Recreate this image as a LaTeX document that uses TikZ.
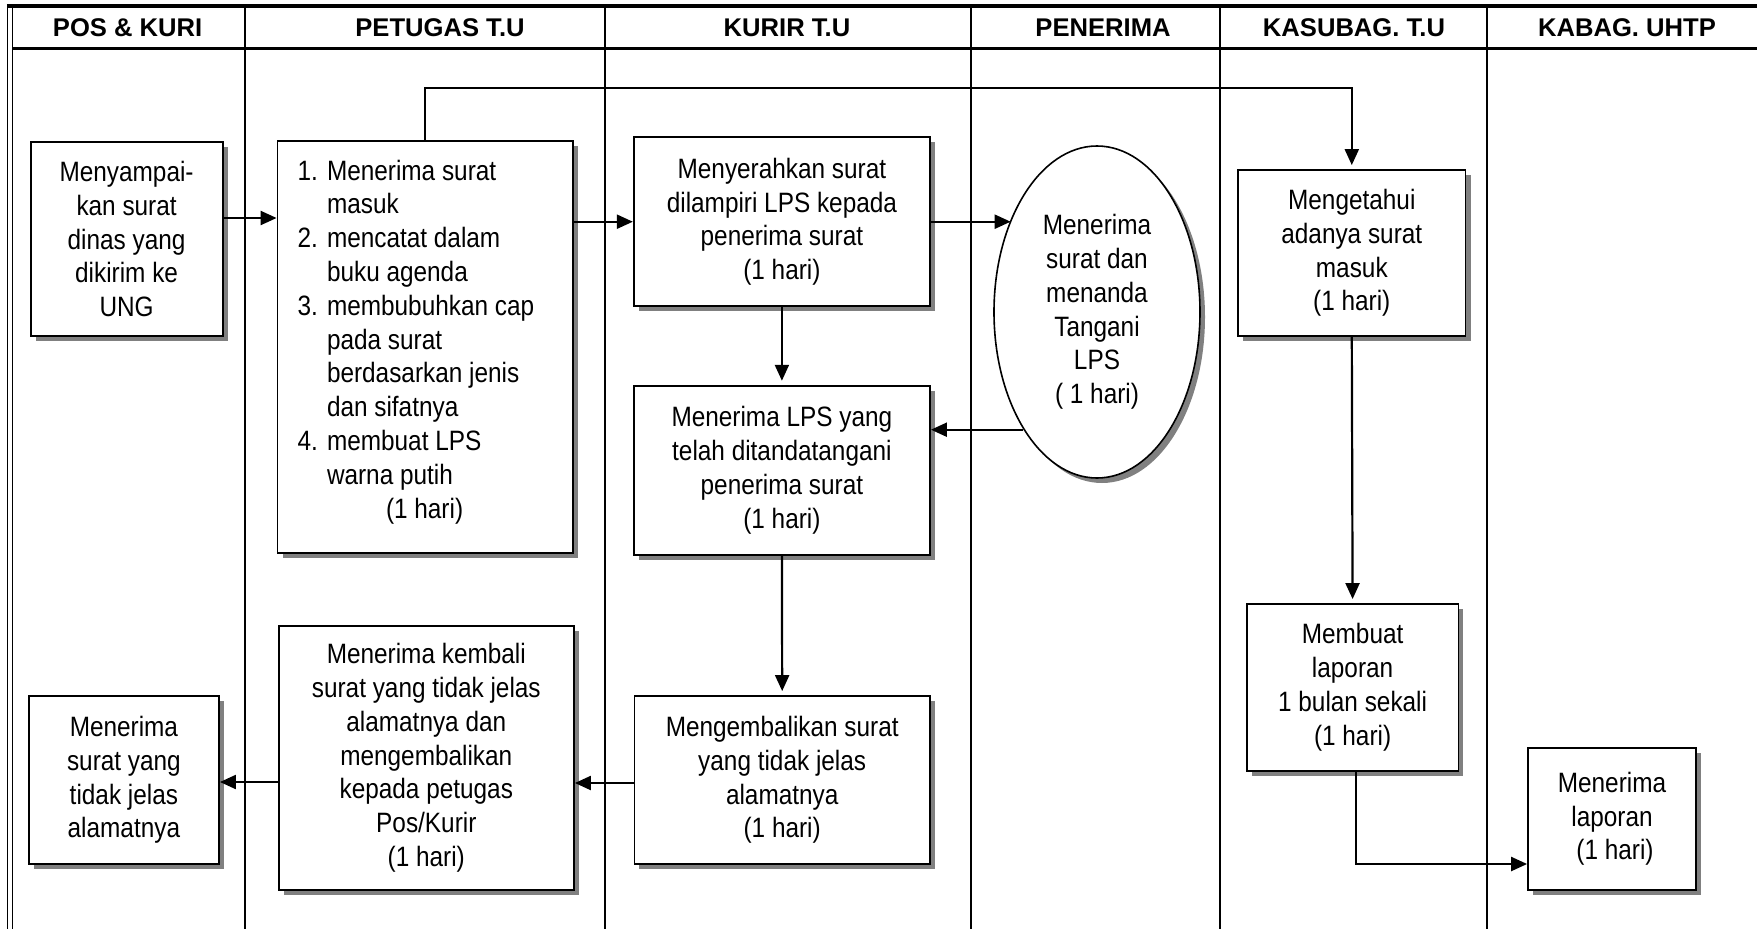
\documentclass[tikz,border=0pt]{standalone}
\usepackage{fontspec}
\setmainfont{Liberation Sans}[FakeStretch=0.87]
\newfontfamily\headfont{Liberation Sans}
\usetikzlibrary{arrows.meta,shapes.geometric,shadows}

\begin{document}
\begin{tikzpicture}[x=1pt,y=-1pt,
  every node/.style={inner sep=0pt},
  txt/.style={font=\fontsize{28}{33.8}\selectfont, align=center},
  shade/.style={drop shadow={shadow xshift=5pt, shadow yshift=-5pt, fill=black!50, opacity=1}},
  box/.style={txt, rectangle, draw, line width=1.8pt, fill=white, shade},
  oval/.style={txt, ellipse, draw, line width=1.6pt, fill=white, shade},
  sz/.style 2 args={minimum width=#1pt, minimum height=#2pt},
  hdr/.style={font=\headfont\bfseries\fontsize{25.6}{30}\selectfont},
  lane/.style={line width=2pt},
  link/.style={line width=2.2pt},
  arr/.style={link, -{Triangle[length=16pt,width=14pt]}},
  varr/.style={arr, shorten >=4pt},
]
\useasboundingbox (0,0) rectangle (1757,929);

% swimlane frame
\draw[line width=1.5pt] (7.7,4) -- (7.7,929);
\draw[line width=1.5pt] (12.6,4) -- (12.6,929);
\draw[line width=4pt] (6.9,5.5) -- (1757,5.5);
\draw[line width=2.8pt] (12.6,48.3) -- (1757,48.3);
\foreach \x in {245,605,971,1220,1487} \draw[lane] (\x,5.5) -- (\x,929);

% lane titles
\node[hdr] (hPos) at (127.6,27.5) {POS \& KURI};
\node[hdr] (hPet) at (440,27.5) {PETUGAS T.U};
\node[hdr] (hKur) at (787,27.5) {KURIR T.U};
\node[hdr] (hPen) at (1103,27.5) {PENERIMA};
\node[hdr] (hKas) at (1354,27.5) {KASUBAG. T.U};
\node[hdr] (hKab) at (1627,27.5) {KABAG. UHTP};

% process steps
\node[box, sz={192}{194}] (kirim) at (126.6,239)
  {Menyampai-\\kan surat\\dinas yang\\dikirim ke\\UNG};

\node[box, sz={295.5}{412}, align=flush left, text width=255.5pt, inner xsep=20pt] (catat) at (425.25,347)
  {\makebox[29.5pt][l]{1.}Menerima surat\\
   \hspace*{29.5pt}masuk\\
   \makebox[29.5pt][l]{2.}mencatat dalam\\
   \hspace*{29.5pt}buku agenda\\
   \makebox[29.5pt][l]{3.}membubuhkan cap\\
   \hspace*{29.5pt}pada surat\\
   \hspace*{29.5pt}berdasarkan jenis\\
   \hspace*{29.5pt}dan sifatnya\\
   \makebox[29.5pt][l]{4.}membuat LPS\\
   \hspace*{29.5pt}warna putih\\
   \hspace*{88.5pt}(1 hari)\rule[-16pt]{0pt}{16pt}};

\node[box, sz={296.3}{168.7}] (serah) at (781.9,221.7)
  {Menyerahkan surat\\dilampiri LPS kepada\\penerima surat\\(1 hari)};

\node[oval, sz={206}{332}] (terima) at (1097,312)
  {Menerima\\surat dan\\menanda\\Tangani\\LPS\\( 1 hari)};

\node[box, sz={296.3}{169.3}] (lps) at (781.9,470.3)
  {Menerima LPS yang\\telah ditandatangani\\penerima surat\\(1 hari)};

\node[box, sz={295.6}{168}] (balik) at (782.2,780)
  {Mengembalikan surat\\yang tidak jelas\\alamatnya\\(1 hari)};

\node[box, sz={295.4}{264.3}] (kembali) at (426.3,757.9)
  {Menerima kembali\\surat yang tidak jelas\\alamatnya dan\\mengembalikan\\kepada petugas\\Pos/Kurir\\(1 hari)};

\node[box, sz={190.3}{168}] (pos) at (123.9,780)
  {Menerima\\surat yang\\tidak jelas\\alamatnya};

\node[box, sz={227.5}{166}] (tahu) at (1351.8,253)
  {Mengetahui\\adanya surat\\masuk\\(1 hari)};

\node[box, sz={211.7}{166.7}] (lapor) at (1352.6,687.3)
  {Membuat\\laporan\\1 bulan sekali\\(1 hari)};

\node[box, sz={168}{142.3}] (kabag) at (1612,818.9)
  {Menerima\\laporan\\\hspace*{6pt}(1 hari)};

% flow
\draw[arr] (kirim.east |- 0,218) -- (catat.west |- 0,218);
\draw[arr] (catat.east |- serah.east) -- (serah.west);
\draw[arr] (serah.east) -- (serah.east -| terima.133.75);
\draw[varr] (serah.south) -- (lps.north);
\draw[arr] (terima.238.5) -- (lps.east |- terima.238.5);
\draw[varr] (lps.south) -- (balik.north);
\draw[arr] (balik.west |- 0,783) -- (kembali.east |- 0,783);
\draw[arr] (kembali.west |- 0,782) -- (pos.east |- 0,782);
\draw[varr] (catat.north) |- (tahu.north |- 0,88) -- (tahu.north);
\draw[varr] (tahu.south) -- (lapor.north);
\draw[arr] ([xshift=3pt]lapor.south) |- (kabag.west |- 0,864);
\end{tikzpicture}
\end{document}
